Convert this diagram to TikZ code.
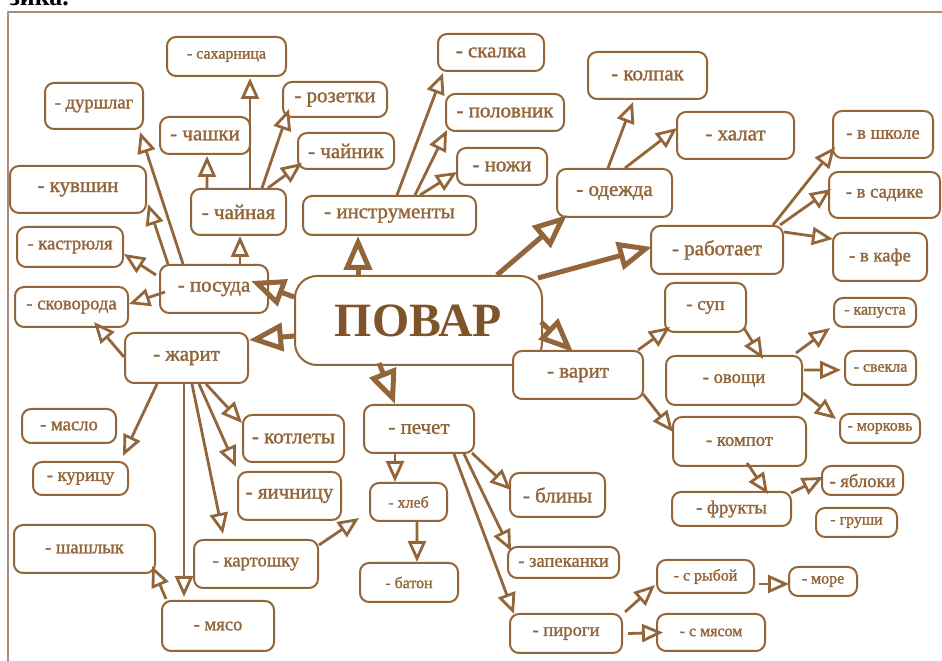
\documentclass[tikz,border=0pt]{standalone}
\usepackage{fontspec}
\setmainfont{Liberation Serif}
\newfontfamily\boxfont{Liberation Serif}[FakeBold=1.5]
\usetikzlibrary{arrows.meta}
\definecolor{brn}{RGB}{146,102,58}
\definecolor{brndark}{RGB}{128,84,42}
\definecolor{framebrn}{RGB}{168,140,126}

\begin{document}
\begin{tikzpicture}[>={Triangle[open,length=21bp,width=18bp]},line join=bevel,
  box/.style={draw=brn,fill=white,line width=2bp,rounded corners=9bp,text=brn,inner sep=0pt},
  bigtxt/.style={font=\boxfont\fontsize{21}{23}\selectfont},
  midtxt/.style={font=\boxfont\fontsize{18.7}{20}\selectfont},
  smalltxt/.style={font=\boxfont\fontsize{16}{18}\selectfont},
  arr/.style={brn,line width=2.8bp,->},
  bigarr/.style={brn,line width=5bp,-{Triangle[open,length=34bp,width=28bp]}},
]
%%
\useasboundingbox (0bp,0bp) rectangle (942bp,661bp);
\draw [framebrn,line width=1.3bp] (8bp,0bp) -- (8bp,649bp) -- (942bp,649bp);
\node (node_title) at (6bp,655bp) [anchor=base west,font=\fontsize{26}{26}\selectfont\bfseries] {зика.};
%
\node (node_povar) at (418.5bp,340.5bp) [box,rounded corners=22bp,minimum width=247bp,minimum height=89bp,text=brndark,font=\fontsize{48}{48}\selectfont\bfseries] {ПОВАР};
  \node (node_sakharnitsa) at (226.5bp,604.5bp) [box,smalltxt,minimum width=119bp,minimum height=39bp] {- сахарница};
  \node (node_durshlag) at (94bp,555bp) [box,midtxt,minimum width=98bp,minimum height=46bp] {- дуршлаг};
  \node (node_chashki) at (205bp,525.5bp) [box,bigtxt,minimum width=90bp,minimum height=37bp] {- чашки};
  \node (node_kuvshin) at (78bp,471.5bp) [box,bigtxt,minimum width=136bp,minimum height=47bp] {- кувшин\hspace{14bp}};
  \node (node_chaynaya) at (238.5bp,449bp) [box,bigtxt,minimum width=95bp,minimum height=46bp] {- чайная};
  \node (node_rozetki) at (335bp,561.5bp) [box,bigtxt,minimum width=104bp,minimum height=35bp] {- розетки};
  \node (node_chaynik) at (346bp,510bp) [box,bigtxt,minimum width=96bp,minimum height=36bp] {- чайник};
  \node (node_skalka) at (491bp,608.5bp) [box,bigtxt,minimum width=106bp,minimum height=37bp] {- скалка};
  \node (node_polovnik) at (505bp,548.5bp) [box,bigtxt,minimum width=118bp,minimum height=37bp] {- половник};
  \node (node_nozhi) at (502bp,494.5bp) [box,bigtxt,minimum width=90bp,minimum height=37bp] {- ножи};
  \node (node_instrumenty) at (389.5bp,445.5bp) [box,bigtxt,minimum width=173bp,minimum height=39bp] {- инструменты};
  \node (node_odezhda) at (614.5bp,468bp) [box,bigtxt,minimum width=115bp,minimum height=48bp] {- одежда};
  \node (node_kolpak) at (647.5bp,585.5bp) [box,bigtxt,minimum width=119bp,minimum height=47bp] {- колпак};
  \node (node_khalat) at (735.5bp,525.5bp) [box,bigtxt,minimum width=117bp,minimum height=47bp] {- халат\hspace{17bp}};
  \node (node_vshkole) at (883bp,526.5bp) [box,midtxt,minimum width=100bp,minimum height=47bp] {- в школе};
  \node (node_vsadike) at (884.5bp,466bp) [box,midtxt,minimum width=111bp,minimum height=46bp] {- в садике};
  \node (node_rabotaet) at (717bp,411bp) [box,bigtxt,minimum width=132bp,minimum height=48bp] {- работает};
  \node (node_vkafe) at (880bp,404bp) [box,midtxt,minimum width=94bp,minimum height=48bp] {- в кафе};
  \node (node_kastryulya) at (70bp,414bp) [box,midtxt,minimum width=106bp,minimum height=40bp] {- кастрюля};
  \node (node_posuda) at (214bp,372bp) [box,bigtxt,minimum width=108bp,minimum height=48bp] {- посуда\hspace{17bp}};
  \node (node_skovoroda) at (71.5bp,354bp) [box,midtxt,minimum width=113bp,minimum height=40bp] {- сковорода};
  \node (node_zharit) at (186.5bp,303bp) [box,bigtxt,minimum width=123bp,minimum height=50bp] {- жарит\hspace{18bp}};
  \node (node_maslo) at (69bp,235bp) [box,midtxt,minimum width=94bp,minimum height=34bp] {- масло\hspace{13bp}};
  \node (node_kotlety) at (293.5bp,222.5bp) [box,bigtxt,minimum width=101bp,minimum height=47bp] {- котлеты};
  \node (node_kuritsu) at (80.5bp,182.5bp) [box,midtxt,minimum width=95bp,minimum height=33bp] {- курицу};
  \node (node_shashlyk) at (84.5bp,112bp) [box,midtxt,minimum width=141bp,minimum height=48bp] {- шашлык\hspace{11bp}};
  \node (node_myaso) at (218bp,35bp) [box,midtxt,minimum width=112bp,minimum height=50bp] {- мясо};
  \node (node_yaichnitsu) at (289.5bp,165bp) [box,bigtxt,minimum width=103bp,minimum height=48bp] {- яичницу};
  \node (node_kartoshku) at (256bp,97bp) [box,midtxt,minimum width=124bp,minimum height=48bp] {- картошку};
  \node (node_varit) at (578bp,286bp) [box,bigtxt,minimum width=130bp,minimum height=48bp] {- варит};
  \node (node_pechet) at (419bp,232bp) [box,bigtxt,minimum width=110bp,minimum height=48bp] {- печет\hspace{28bp}};
  \node (node_khleb) at (408.5bp,159bp) [box,smalltxt,minimum width=77bp,minimum height=38bp] {- хлеб\hspace{19bp}};
  \node (node_baton) at (409bp,78.5bp) [box,smalltxt,minimum width=98bp,minimum height=39bp] {- батон};
  \node (node_bliny) at (557.5bp,166bp) [box,bigtxt,minimum width=95bp,minimum height=44bp] {- блины};
  \node (node_zapekanki) at (563.5bp,98.5bp) [box,midtxt,minimum width=111bp,minimum height=31bp] {- запеканки};
  \node (node_pirogi) at (566bp,27.5bp) [box,midtxt,minimum width=112bp,minimum height=39bp] {- пироги\hspace{20bp}};
  \node (node_sup) at (705.5bp,353.5bp) [box,midtxt,minimum width=81bp,minimum height=49bp] {- суп};
  \node (node_ovoshchi) at (734bp,280.5bp) [box,midtxt,minimum width=136bp,minimum height=49bp] {- овощи\hspace{27bp}};
  \node (node_kapusta) at (875bp,348.5bp) [box,smalltxt,minimum width=82bp,minimum height=29bp] {- капуста};
  \node (node_svekla) at (880.5bp,293bp) [box,smalltxt,minimum width=71bp,minimum height=34bp] {- свекла};
  \node (node_morkov) at (880bp,232.5bp) [box,smalltxt,minimum width=80bp,minimum height=29bp] {- морковь};
  \node (node_kompot) at (739.5bp,219.5bp) [box,midtxt,minimum width=133bp,minimum height=49bp] {- компот\hspace{24bp}};
  \node (node_frukty) at (731.5bp,152bp) [box,midtxt,minimum width=119bp,minimum height=34bp] {- фрукты};
  \node (node_yabloki) at (862.5bp,180.5bp) [box,midtxt,minimum width=81bp,minimum height=29bp] {- яблоки};
  \node (node_grushi) at (856.5bp,138.5bp) [box,smalltxt,minimum width=81bp,minimum height=29bp] {- груши};
  \node (node_srybov) at (705.5bp,84.5bp) [box,smalltxt,minimum width=97bp,minimum height=33bp] {- с рыбой\hspace{13bp}};
  \node (node_more) at (823bp,79.5bp) [box,smalltxt,minimum width=68bp,minimum height=29bp] {- море};
  \node (node_smyasom) at (711bp,28.5bp) [box,smalltxt,minimum width=108bp,minimum height=37bp] {- с мясом\hspace{20bp}};
%
  \draw [bigarr] ([xshift=-60.5bp]node_povar.north) -- ([xshift=-31.5bp]node_instrumenty.south);
  \draw [bigarr] ([yshift=23.5bp]node_povar.west) -- ([xshift=-18bp,yshift=8bp]node_posuda.east);
  \draw [bigarr] ([yshift=-15.5bp]node_povar.west) -- ([yshift=18bp]node_zharit.east);
  \draw [bigarr] ([xshift=78.5bp]node_povar.north) -- ([xshift=-47.5bp,yshift=3bp]node_odezhda.south);
  \draw [bigarr] ([xshift=-5bp,yshift=-3bp]node_povar.north east) -- ([xshift=2bp,yshift=3bp]node_rabotaet.west);
  \draw [bigarr] ([xshift=-2bp,yshift=-1.5bp]node_povar.east) -- ([xshift=-5bp,yshift=-2bp]node_varit.north);
  \draw [bigarr] ([xshift=-39.5bp,yshift=3bp]node_povar.south) -- ([xshift=-24bp]node_pechet.north);
  \draw [arr] ([xshift=26bp]node_posuda.north) -- ([xshift=1.5bp]node_chaynaya.south);
  \draw [arr] ([xshift=-3bp,yshift=14bp]node_posuda.west) -- ([yshift=-7bp]node_kastryulya.east);
  \draw [arr] ([xshift=6bp,yshift=-3bp]node_posuda.west) -- ([yshift=3bp]node_skovoroda.east);
  \draw [arr] ([xshift=-46bp]node_posuda.north) -- ([xshift=1bp,yshift=-14.5bp]node_kuvshin.east);
  \draw [arr] ([xshift=-31bp]node_posuda.north) -- ([xshift=46bp,yshift=-2bp]node_durshlag.south);
  \draw [arr] ([xshift=-31.5bp]node_chaynaya.north) -- ([xshift=2bp,yshift=-1bp]node_chashki.south);
  \draw [arr] ([xshift=11.5bp]node_chaynaya.north) -- ([xshift=23.5bp,yshift=-1bp]node_sakharnitsa.south);
  \draw [arr] ([xshift=23.5bp]node_chaynaya.north) -- ([xshift=7bp,yshift=9bp]node_rozetki.south west);
  \draw [arr] ([xshift=29.5bp]node_chaynaya.north) -- ([xshift=5bp,yshift=-12bp]node_chaynik.west);
  \draw [arr] ([xshift=7.5bp]node_instrumenty.north) -- ([xshift=-48bp,yshift=-1bp]node_skalka.south);
  \draw [arr] ([xshift=25.5bp]node_instrumenty.north) -- ([xshift=2bp,yshift=2bp]node_polovnik.south west);
  \draw [arr] ([xshift=30.5bp]node_instrumenty.north) -- ([xshift=1bp,yshift=-5.5bp]node_nozhi.west);
  \draw [arr] ([xshift=-6.5bp]node_odezhda.north) -- ([xshift=-14.5bp,yshift=-2bp]node_kolpak.south);
  \draw [arr] ([xshift=10.5bp]node_odezhda.north) -- ([xshift=1bp,yshift=7.5bp]node_khalat.west);
  \draw [arr] ([xshift=56bp]node_rabotaet.north) -- ([xshift=3bp,yshift=12bp]node_vshkole.south west);
  \draw [arr] ([xshift=63bp]node_rabotaet.north) -- ([xshift=3bp,yshift=6bp]node_vsadike.west);
  \draw [arr] ([yshift=18bp]node_rabotaet.east) -- ([xshift=1bp,yshift=18bp]node_vkafe.west);
  \draw [arr] ([xshift=-6bp]node_varit.north east) -- ([xshift=6bp,yshift=-19.5bp]node_sup.west);
  \draw [arr] ([xshift=-1bp,yshift=-19bp]node_varit.east) -- ([xshift=1bp,yshift=9.5bp]node_kompot.west);
  \draw [arr] ([xshift=-3bp,yshift=5bp]node_sup.south east) -- ([xshift=29bp,yshift=-4bp]node_ovoshchi.north);
  \draw [arr] ([xshift=-7bp,yshift=2bp]node_ovoshchi.north east) -- ([xshift=-3bp]node_kapusta.south west);
  \draw [arr] ([xshift=1bp,yshift=10.5bp]node_ovoshchi.east) -- ([xshift=-3bp,yshift=-2bp]node_svekla.west);
  \draw [arr] ([yshift=-12.5bp]node_ovoshchi.east) -- ([xshift=-3bp,yshift=9.5bp]node_morkov.west);
  \draw [arr] ([xshift=7.5bp,yshift=4bp]node_kompot.south) -- ([xshift=36.5bp,yshift=-3bp]node_frukty.north);
  \draw [arr] ([xshift=-1bp,yshift=-2bp]node_frukty.north east) -- ([xshift=2bp,yshift=3.5bp]node_yabloki.west);
  \draw [arr] ([xshift=2bp,yshift=1bp]node_pirogi.north east) -- ([xshift=-1bp,yshift=-8.5bp]node_srybov.west);
  \draw [arr] ([xshift=5bp]node_pirogi.east) -- ([xshift=7bp]node_smyasom.west);
  \draw [arr] ([xshift=4bp,yshift=-7.5bp]node_srybov.east) -- ([xshift=1bp,yshift=-2.5bp]node_more.west);
  \draw [arr] ([yshift=1bp]node_zharit.west) -- ([xshift=22.5bp,yshift=6bp]node_skovoroda.south);
  \draw [arr] ([xshift=-29.5bp]node_zharit.south) -- ([xshift=42.5bp,yshift=5bp]node_kuritsu.north);
  \draw [arr] ([xshift=-2.5bp]node_zharit.south) -- ([xshift=-34bp,yshift=3bp]node_myaso.north);
  \draw [arr] ([xshift=5.5bp]node_zharit.south) -- ([xshift=-33bp,yshift=5bp]node_kartoshku.north);
  \draw [arr] ([xshift=12.5bp]node_zharit.south) -- ([xshift=-1bp,yshift=4bp]node_yaichnitsu.north west);
  \draw [arr] ([xshift=19.5bp]node_zharit.south) -- ([yshift=15.5bp]node_kotlety.west);
  \draw [arr] ([xshift=5bp,yshift=1bp]node_myaso.north west) -- ([xshift=-4bp,yshift=8bp]node_shashlyk.south east);
  \draw [arr] ([yshift=-6bp]node_kartoshku.north east) -- ([xshift=-10bp,yshift=4bp]node_khleb.south west);
  \draw [arr] ([xshift=-24bp]node_pechet.south) -- ([xshift=-13.5bp]node_khleb.north);
  \draw [arr] ([xshift=-3bp,yshift=1bp]node_pechet.south east) -- ([xshift=2bp,yshift=5bp]node_bliny.west);
  \draw [arr] ([xshift=-11bp]node_pechet.south east) -- ([xshift=4bp,yshift=11.5bp]node_zapekanki.west);
  \draw [arr] ([xshift=-21bp]node_pechet.south east) -- ([xshift=5bp,yshift=-1bp]node_pirogi.north west);
  \draw [arr] ([xshift=8.5bp]node_khleb.south) -- ([xshift=8bp]node_baton.north);
%
\end{tikzpicture}
\end{document}
